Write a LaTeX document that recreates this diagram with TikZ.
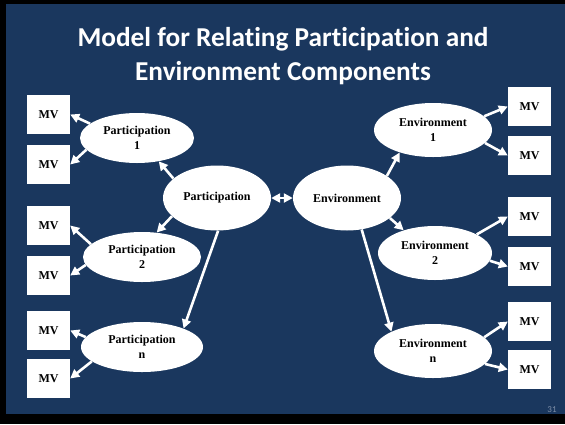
\documentclass[tikz,border=0pt]{standalone}
\usepackage{fontspec}
\setmainfont{Liberation Serif}
\newfontfamily\titlefont[Ligatures=NoCommon]{Carlito}
\usetikzlibrary{arrows.meta,shapes.geometric}
\definecolor{navy}{HTML}{1A375E}
\definecolor{pnum}{HTML}{7F8FA8}
\begin{document}
\begin{tikzpicture}[x=1pt,y=-1pt,
  mv/.style={draw=none,fill=white,minimum width=43pt,minimum height=39pt,inner sep=0pt,font=\fontsize{12}{13}\selectfont\bfseries},
  lv/.style={ellipse,fill=white,inner sep=0pt,align=center,font=\fontsize{12}{15}\selectfont\bfseries},
  arr/.style={white,line width=2.6pt,-{Triangle[length=9pt,width=9pt]}},
  darr/.style={white,line width=2.6pt,{Triangle[length=9pt,width=9pt]}-{Triangle[length=9pt,width=9pt]}}]
\useasboundingbox (0,0) rectangle (565,424);
\fill[black] (0,0) rectangle (565,424);
\fill[navy] (6,4) rectangle (565,414);
\node[font=\titlefont\fontsize{27.3}{34}\selectfont\bfseries,text=white,align=center] (title) at (283,56) {Model for Relating Participation and\\Environment Components};
\node[text=pnum,font=\titlefont\fontsize{9}{10}\selectfont] (pg) at (552,410) {31};
% left MV boxes
\node[mv] (l1) at (48.5,114.5) {MV};
\node[mv] (l2) at (48.5,164.5) {MV};
\node[mv] (l3) at (48.5,225.5) {MV};
\node[mv] (l4) at (48.5,275.5) {MV};
\node[mv] (l5) at (48.5,330.5) {MV};
\node[mv] (l6) at (48.5,378.5) {MV};
% right MV boxes
\node[mv] (r1) at (529.5,106.5) {MV};
\node[mv] (r2) at (529.5,155.5) {MV};
\node[mv] (r3) at (529.5,216.5) {MV};
\node[mv] (r4) at (529.5,266.5) {MV};
\node[mv] (r5) at (529.5,321.5) {MV};
\node[mv] (r6) at (529.5,369.5) {MV};
% ellipses
\node[lv,minimum width=114pt,minimum height=50pt] (p1) at (137,138) {Participation\\1};
\node[lv,minimum width=108pt,minimum height=65pt] (p) at (217,198) {Participation};
\node[lv,minimum width=118pt,minimum height=50pt] (p2) at (142,257) {Participation\\2};
\node[lv,minimum width=122pt,minimum height=50pt] (pn) at (142,347) {Participation\\n};
\node[lv,minimum width=108pt,minimum height=65pt] (e) at (347,198) {Environment};
\node[lv,minimum width=118pt,minimum height=54pt] (e1) at (433,130) {Environment\\1};
\node[lv,minimum width=114pt,minimum height=54pt] (e2) at (435,253) {Environment\\2};
\node[lv,minimum width=118pt,minimum height=54pt] (en) at (433,351) {Environment\\n};
% connectors
\draw[arr] (p1.163) -- (l1.east);
\draw[arr] (p1.193) -- (l2.east);
\draw[arr] (p2.166) -- (l3.east);
\draw[arr] (p2.188) -- (l4.east);
\draw[arr] (pn.170) -- (l5.east);
\draw[arr] (pn.196) -- (l6.east);
\draw[arr] (p.156) -- (p1.-47);
\draw[arr] (p.202) -- (p2.59);
\draw[arr] (p.-88) -- (pn.24);
\draw[darr] (p.east) -- (e.west);
\draw[arr] (e.29) -- (e1.214);
\draw[arr] (e.-25) -- (e2.144);
\draw[arr] (e.-65) -- (en.155);
\draw[arr] (e1.15) -- (r1.west);
\draw[arr] (e1.-14) -- (r2.west);
\draw[arr] (e2.24) -- (r3.west);
\draw[arr] (e2.-8) -- (r4.west);
\draw[arr] (en.15) -- (r5.west);
\draw[arr] (en.-14) -- (r6.west);
\end{tikzpicture}
\end{document}
